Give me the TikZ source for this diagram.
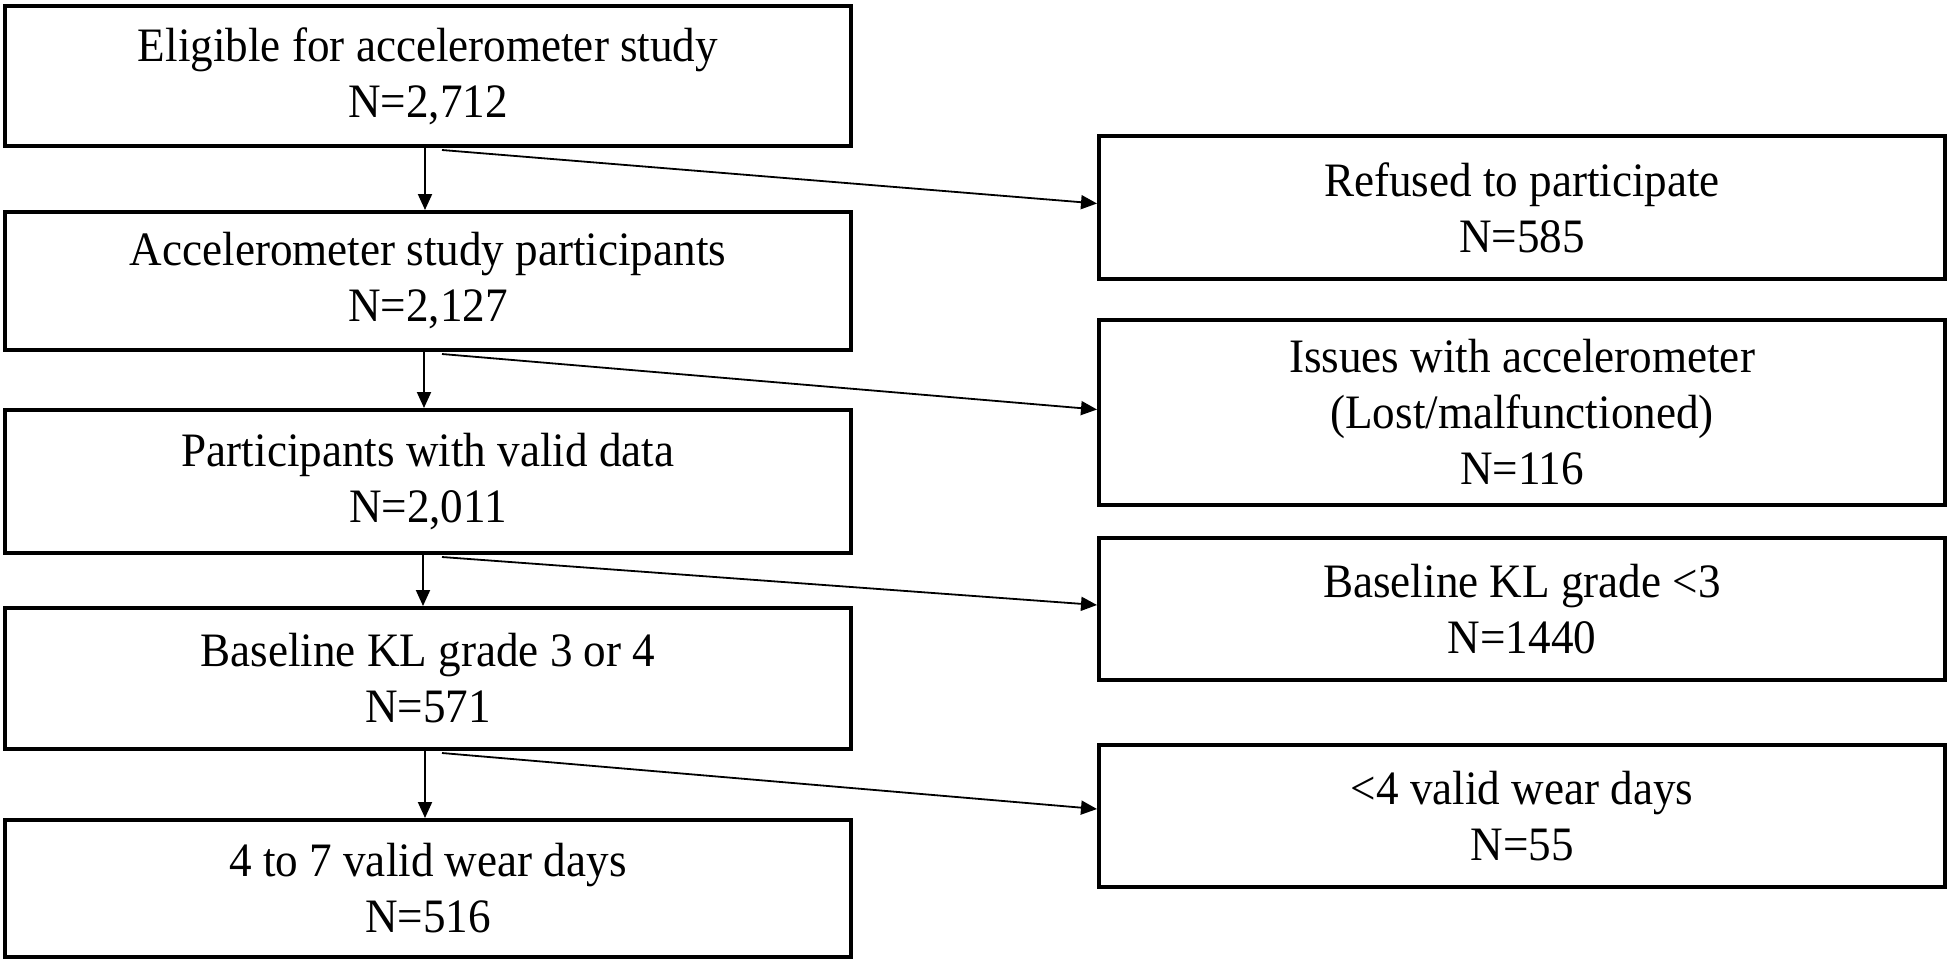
\documentclass[tikz,border=0pt]{standalone}
\usepackage{fontspec}
\setmainfont{Liberation Serif}[FakeStretch=0.94]
\usetikzlibrary{arrows.meta}
\begin{document}
\begin{tikzpicture}[x=1pt,y=-1pt,
  box/.style={draw, line width=4pt, minimum width=846pt, inner sep=0pt,
    align=center, font=\fontsize{48}{56}\selectfont},
  downarrow/.style={line width=2pt, -{Triangle[length=16pt,width=14pt]}},
  sidearrow/.style={line width=1.8pt, -{Triangle[length=16pt,width=14pt]}}]
\useasboundingbox (0,0) rectangle (1950,962);
% left column
\node[box, minimum height=140pt] (b1) at (428,76) {Eligible for accelerometer study\\N=2,712};
\node[box, minimum height=138pt] (b2) at (428,281) {Accelerometer study participants\\N=2,127};
\node[box, minimum height=143pt] (b3) at (428,481.5) {Participants with valid data\\N=2,011};
\node[box, minimum height=141pt] (b4) at (428,678.5) {Baseline KL grade 3 or 4\\N=571};
\node[box, minimum height=137pt] (b5) at (428,888.5) {4 to 7 valid wear days\\N=516};
% right column
\node[box, minimum height=143pt] (r1) at (1522,207.5) {Refused to participate\\N=585};
\node[box, minimum height=185pt] (r2) at (1522,412.5) {Issues with accelerometer\\(Lost/malfunctioned)\\N=116};
\node[box, minimum height=142pt] (r3) at (1522,609) {Baseline KL grade {<}3\\N=1440};
\node[box, minimum height=142pt] (r4) at (1522,816) {{<}4 valid wear days\\N=55};
% vertical arrows
\draw[downarrow] ([xshift=-3pt]b1.south) -- ([xshift=-3pt]b2.north);
\draw[downarrow] ([xshift=-4pt]b2.south) -- ([xshift=-4pt]b3.north);
\draw[downarrow] ([xshift=-5pt]b3.south) -- ([xshift=-5pt]b4.north);
\draw[downarrow] ([xshift=-3pt]b4.south) -- ([xshift=-3pt]b5.north);
% side arrows
\draw[sidearrow] ([xshift=14pt,yshift=-2pt]b1.south) -- ([yshift=4pt]r1.west);
\draw[sidearrow] ([xshift=14pt,yshift=-2pt]b2.south) -- ([yshift=3pt]r2.west);
\draw[sidearrow] ([xshift=14pt,yshift=-2pt]b3.south) -- ([yshift=4pt]r3.west);
\draw[sidearrow] ([xshift=14pt,yshift=-2pt]b4.south) -- ([yshift=7pt]r4.west);
\end{tikzpicture}
\end{document}
